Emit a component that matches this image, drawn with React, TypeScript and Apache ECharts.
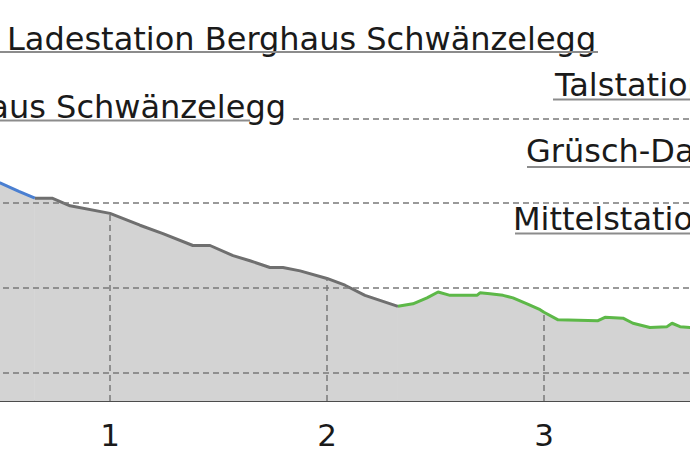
import React, { useEffect, useRef } from "react";
import * as echarts from "echarts";

// distance (km) / elevation (m) profile, split by segment colour
const blueSegment: [number, number][] = [
  [0.46, 1728], [0.493, 1724], [0.58, 1714], [0.654, 1706],
];
const graySegment: [number, number][] = [
  [0.654, 1706], [0.733, 1706], [0.816, 1697], [1.0, 1688], [1.138, 1674],
  [1.244, 1664], [1.382, 1650], [1.461, 1650], [1.567, 1638], [1.645, 1632],
  [1.737, 1624], [1.797, 1624], [1.876, 1620], [2.0, 1611], [2.083, 1603],
  [2.175, 1591], [2.327, 1578],
];
const greenSegment: [number, number][] = [
  [2.327, 1578], [2.396, 1581], [2.461, 1588], [2.512, 1595], [2.567, 1591],
  [2.691, 1591], [2.705, 1594], [2.751, 1593], [2.811, 1591], [2.857, 1588],
  [2.922, 1581], [2.982, 1574], [3.0, 1571], [3.065, 1562], [3.249, 1561],
  [3.281, 1565], [3.364, 1564], [3.41, 1558], [3.488, 1553], [3.567, 1554],
  [3.59, 1558], [3.627, 1554], [3.673, 1553], [3.72, 1553],
];
const kmMarkers = [1, 2, 3];
const elevationGrid = [1500, 1600, 1700, 1800];
const yMin = 1466;
const yMax = 1869.5;

const labels = [
  { text: "Ladestation Berghaus Schwänzelegg", x: 7, y: 50, align: "left", line: [0, 598, 52], bg: false },
  { text: "Berghaus Schwänzelegg", x: 289, y: 118, align: "right", line: [0, 250, 120.5], bg: true },
  { text: "Talstation Grüsch-Danusa", x: 555, y: 96, align: "left", line: [553, 700, 99.5], bg: false },
  { text: "Grüsch-Danusa", x: 526, y: 161.7, align: "left", line: [527, 700, 167], bg: false },
  { text: "Mittelstation Schwänzelegg", x: 513, y: 230, align: "left", line: [515, 700, 233.5], bg: false },
];

const OFFSET = 107;
const FONT = "DejaVu Sans";
const FS = 32;

function elevAt(x: number): number {
  const all = [...blueSegment, ...graySegment, ...greenSegment];
  const p = all.find((d) => Math.abs(d[0] - x) < 1e-6);
  return p ? p[1] : yMin;
}

export default function App() {
  const ref = useRef<HTMLDivElement>(null);
  useEffect(() => {
    if (!ref.current) return;
    const chart = echarts.init(ref.current, undefined, { renderer: "svg" });
    const seg = (data: [number, number][], color: string) => ({
      type: "line",
      data,
      showSymbol: false,
      symbol: "none",
      lineStyle: { color, width: 3 },
      itemStyle: { color },
      areaStyle: { color: "#d3d3d3", opacity: 1 },
      z: 2,
    });
    const graphics: any[] = [];
    labels.forEach((l) => {
      graphics.push({
        type: "text",
        x: l.x + OFFSET,
        y: l.y - 0.346 * FS,
        z: 100,
        style: {
          text: l.text,
          fontFamily: FONT,
          fontSize: FS,
          fill: "#1a1a1a",
          align: l.align,
          verticalAlign: "middle",
          backgroundColor: l.bg ? "#ffffff" : undefined,
          padding: l.bg ? [2, 3] : 0,
        },
      });
      graphics.push({
        type: "line",
        z: 101,
        shape: { x1: l.line[0] + OFFSET, y1: l.line[2], x2: l.line[1] + OFFSET, y2: l.line[2] },
        style: { stroke: "#8c8c8c", lineWidth: 2 },
      });
    });
    chart.setOption({
      animation: false,
      backgroundColor: "#ffffff",
      grid: { left: 0, right: 0, top: 60, bottom: 59 },
      xAxis: {
        type: "value",
        min: 0,
        max: 4,
        interval: 1,
        axisLine: { show: true, lineStyle: { color: "#111", width: 1.6 } },
        axisTick: { show: false },
        splitLine: { show: false },
        axisLabel: {
          fontFamily: FONT,
          fontSize: 31,
          color: "#1a1a1a",
          margin: 18,
          showMinLabel: false,
          showMaxLabel: false,
        },
      },
      yAxis: {
        type: "value",
        min: yMin,
        max: yMax,
        axisLine: { show: false },
        axisTick: { show: false },
        axisLabel: { show: false },
        splitLine: { show: false },
      },
      series: [
        seg(blueSegment, "#4a7fd1"),
        seg(graySegment, "#6f6f6f"),
        seg(greenSegment, "#5db848"),
        {
          type: "line",
          data: [],
          z: 5,
          markLine: {
            silent: true,
            symbol: "none",
            label: { show: false },
            lineStyle: { color: "#7a7a7a", type: [6, 4], width: 1.5 },
            data: [
              ...elevationGrid.map((v) => ({ yAxis: v })),
              ...kmMarkers.map((k) => [
                { coord: [k, yMin] },
                { coord: [k, elevAt(k)] },
              ]),
            ],
          },
        },
      ],
      graphic: graphics,
    });
    return () => chart.dispose();
  }, []);
  return (
    <div style={{ position: "fixed", left: 0, top: 0, width: 690, height: 460, overflow: "hidden", background: "#fff" }}>
      <div ref={ref} style={{ position: "absolute", left: -OFFSET, top: 0, width: 868, height: 460 }} />
    </div>
  );
}
